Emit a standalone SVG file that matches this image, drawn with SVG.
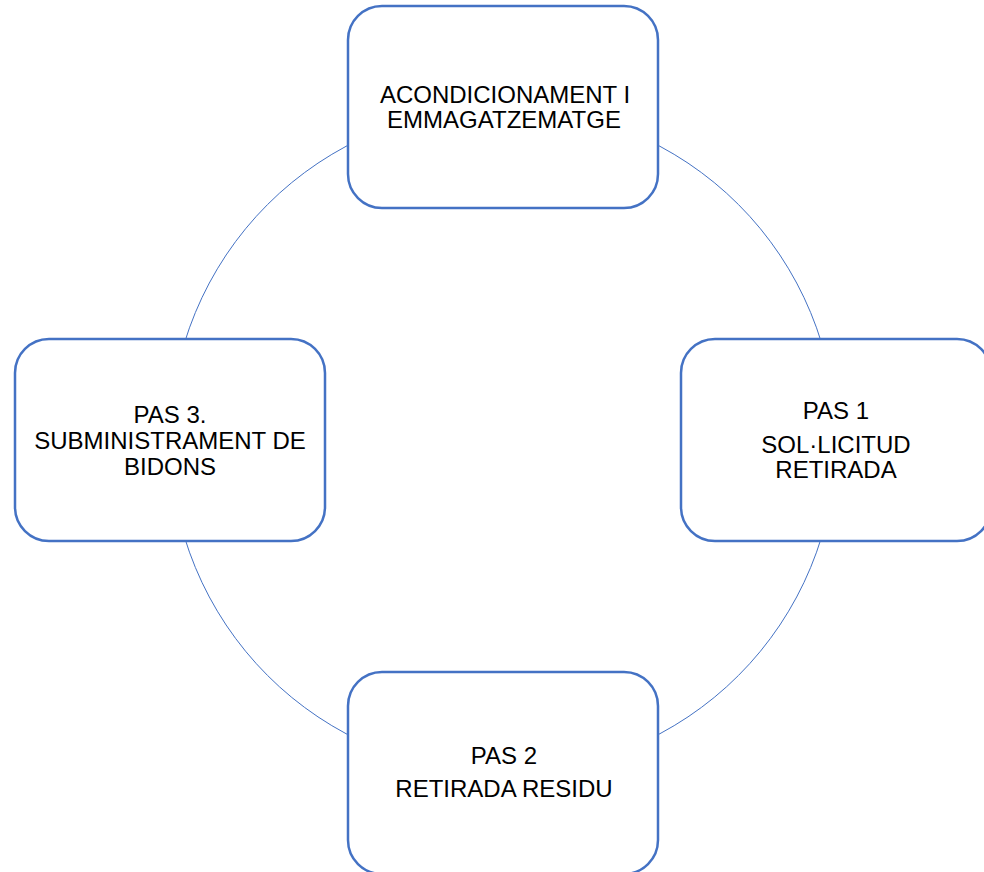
<svg xmlns="http://www.w3.org/2000/svg" width="984" height="872" viewBox="0 0 984 872">
<style>
.box{fill:#ffffff;stroke:#4472C4;stroke-width:2.5}
.ring{fill:none;stroke:#4472C4;stroke-width:1}
.t{font-family:"Liberation Sans",Arial,sans-serif;font-size:24px;fill:#000000;text-anchor:middle}
</style>
<rect width="984" height="872" fill="#ffffff"/>
<g id="connectors">
<circle class="ring" cx="503" cy="440" r="333"/>
</g>
<g id="node-top">
<rect class="box" x="348" y="6" width="310" height="202" rx="34" ry="34"/>
<text class="t" x="505" y="103">ACONDICIONAMENT I</text>
<text class="t" x="504" y="128">EMMAGATZEMATGE</text>
</g>
<g id="node-right">
<rect class="box" x="681" y="339" width="310" height="202" rx="34" ry="34"/>
<text class="t" x="836" y="419">PAS 1</text>
<text class="t" x="836" y="452.5">SOL·LICITUD</text>
<text class="t" x="836" y="478">RETIRADA</text>
</g>
<g id="node-bottom">
<rect class="box" x="348" y="672" width="310" height="202" rx="34" ry="34"/>
<text class="t" x="504" y="764">PAS 2</text>
<text class="t" x="504" y="797">RETIRADA RESIDU</text>
</g>
<g id="node-left">
<rect class="box" x="15" y="339" width="310" height="202" rx="34" ry="34"/>
<text class="t" x="170" y="423">PAS 3.</text>
<text class="t" x="170" y="449">SUBMINISTRAMENT DE</text>
<text class="t" x="170" y="475">BIDONS</text>
</g>
</svg>
